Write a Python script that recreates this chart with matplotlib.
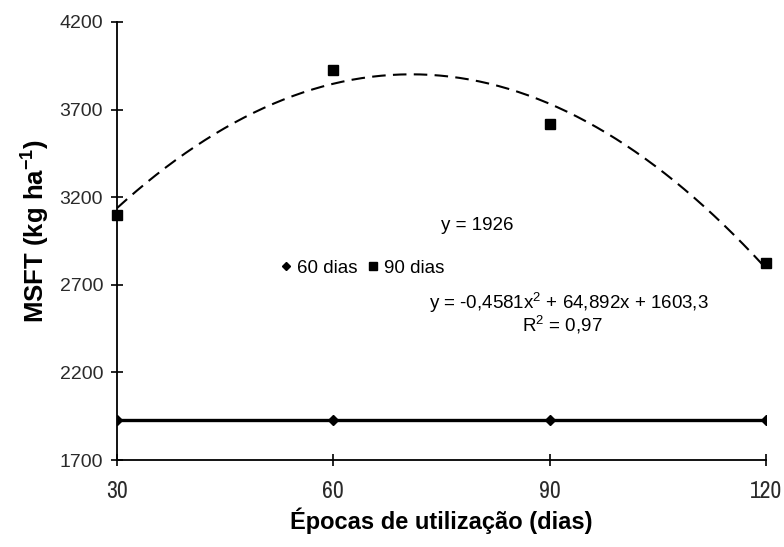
import numpy as np
import matplotlib
matplotlib.use("Agg")
import matplotlib.pyplot as plt

# data
epocas = [30, 60, 90, 120]
msft_60 = [1926, 1926, 1926, 1926]
msft_90 = [3098, 3925, 3615, 2825]
fit_90 = [-0.4581, 64.892, 1603.3]   # quadratic trend shown on the chart

xticks = [30, 60, 90, 120]
yticks = [1700, 2200, 2700, 3200, 3700, 4200]

plt.rcParams["font.family"] = ["Liberation Sans", "DejaVu Sans"]
narrow = ["Archivo Narrow", "Liberation Sans", "DejaVu Sans"]

fig = plt.figure(figsize=(7.84, 5.47), dpi=100)
ax = fig.add_axes([117 / 784, 87 / 547, 649 / 784, 438 / 547])

ax.plot(epocas, msft_60, color="black", lw=2.4, marker="D", ms=5,
        label="60 dias")
ax.plot(epocas, msft_90, ls="none", marker="s", color="black", ms=7.5,
        label="90 dias", clip_on=False)

xs = np.linspace(30, 120, 200)
ax.plot(xs, np.polyval(fit_90, xs), color="black", lw=1.5, ls=(0, (6.5, 3.5)))

ax.set_xlim(30, 120)
ax.set_ylim(1700, 4200)
ax.set_xticks(xticks)
ax.set_yticks(yticks)
ax.tick_params(direction="inout", length=8, width=1.2, colors="black",
               labelcolor="#2a2a2a")
ax.tick_params(axis="y", labelsize=14, pad=6)
ax.tick_params(axis="x", labelsize=17, pad=11)
for lab in ax.get_xticklabels():
    lab.set_family(narrow)
for s in ["top", "right"]:
    ax.spines[s].set_visible(False)
for s in ["left", "bottom"]:
    ax.spines[s].set_linewidth(1.3)

ax.set_xlabel("Épocas de utilização (dias)", fontsize=17, fontweight="bold",
              labelpad=4)
ax.set_ylabel("MSFT (kg ha$^{\\mathregular{-1}}$)", fontsize=18.5,
              fontweight="bold")
ax.yaxis.set_label_coords(-0.101, 0.523)

ax.text(79.9, 3041, "y = 1926", fontsize=13.5, ha="center", va="center")
ax.text(92.7, 2596, "y = -0,4581x$^{\\mathregular{2}}$ + 64,892x + 1603,3",
        fontsize=13.5, ha="center", va="center")
ax.text(91.7, 2470, "R$^{\\mathregular{2}}$ = 0,97", fontsize=13.5,
        ha="center", va="center")

ax.legend(loc="center", bbox_to_anchor=(0.378, 0.438), ncol=2, frameon=False,
          fontsize=13.5, handlelength=0.6, handletextpad=0.3,
          columnspacing=0.5, markerscale=0.85)
leg = ax.get_legend()
for h in leg.legend_handles:
    h.set_linestyle("none")

fig.savefig("out.png", dpi=100)
